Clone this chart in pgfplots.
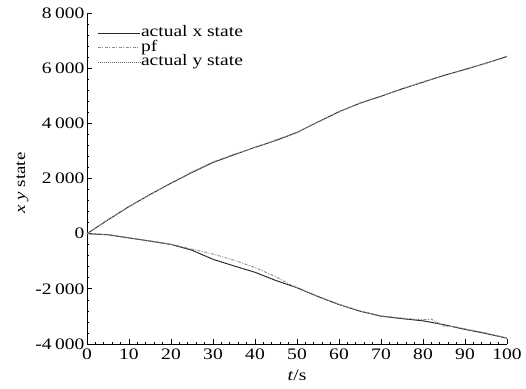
\documentclass[border=0pt]{standalone}
\usepackage{fontspec}
\setmainfont{Liberation Serif}[FakeStretch=1.22]
\usepackage{pgfplots}
\pgfplotsset{compat=1.18}
\begin{document}
\begin{tikzpicture}
\begin{axis}[
  at={(0,0)}, anchor=south west,
  scale only axis, width=420bp, height=331bp,
  xmin=0, xmax=100, ymin=-4000, ymax=8000,
  axis x line*=bottom, axis y line*=left,
  axis line style={-, line width=0.8bp},
  xtick={0,10,...,100}, ytick={-4000,-2000,...,8000},
  minor x tick num=4, minor y tick num=4,
  tick align=inside, major tick length=5bp, minor tick length=2bp,
  tick style={line width=0.7bp, black},
  /pgf/number format/assume math mode=true,
  /pgf/number format/1000 sep={\hspace{0.22em}},
  tick label style={font=\fontsize{16bp}{18bp}\selectfont},
  yticklabel style={xshift=1bp},
  xticklabel style={yshift=-1.5bp},
  xlabel={\textit{t}/s}, ylabel={\textit{x y} state},
  xlabel style={font=\fontsize{16bp}{18bp}\selectfont, yshift=-3bp},
  ylabel style={font=\fontsize{15.5bp}{17bp}\selectfont, xshift=-4.5bp},
  legend style={draw=none, fill=none, at={(axis description cs:0.024,0.961)}, anchor=north west,
    font=\fontsize{16bp}{18bp}\selectfont, inner sep=0pt, row sep=0pt,
    nodes={inner sep=0.75bp, text height=10bp, text depth=3bp}, cells={anchor=west}},
  legend image code/.code={\draw[#1] (0bp,0bp) -- (42bp,0bp);},
]
\addplot[black!85, line width=0.9bp] coordinates {
(0,0) (5,500) (10,980) (15,1420) (20,1830) (25,2220) (30,2580) (35,2860) (40,3130) (45,3380) (50,3670) (55,4050) (60,4420) (65,4730) (70,4980) (75,5250) (80,5490) (85,5740) (90,5950) (95,6180) (100,6420)};
\addlegendentry{actual x state}
\addplot[black!45, line width=0.9bp, dash pattern=on 3bp off 1.5bp on 1bp off 1.5bp] coordinates {
(0,0) (5,510) (10,990) (15,1410) (20,1840) (25,2240) (30,2600) (35,2880) (40,3120) (45,3400) (50,3680) (55,4040) (60,4410) (65,4740) (70,4990) (75,5240) (80,5510) (85,5720) (90,5970) (95,6170) (100,6440)};
\addlegendentry{pf}
\addplot[black!60, line width=1bp, densely dotted] coordinates {
(0,0) (5,-40) (10,-155) (15,-270) (20,-390) (25,-600) (30,-930) (35,-1170) (40,-1400) (45,-1700) (50,-1960) (55,-2280) (60,-2570) (65,-2810) (70,-2990) (75,-3080) (80,-3160) (85,-3300) (90,-3470) (95,-3620) (100,-3790)};
\addlegendentry{actual y state}
\addplot[black!85, line width=0.8bp, forget plot] coordinates {
(0,0) (5,-40) (10,-155) (15,-270) (20,-390) (25,-600) (30,-930) (35,-1170) (40,-1400) (45,-1700) (50,-1960) (55,-2280) (60,-2570) (65,-2810) (70,-2990) (75,-3080) (80,-3160) (85,-3300) (90,-3470) (95,-3620) (100,-3790)};
\addplot[black!45, line width=0.9bp, dash pattern=on 3bp off 1.5bp on 1bp off 1.5bp, forget plot] coordinates {
(0,0) (5,-30) (10,-150) (15,-260) (20,-380) (25,-560) (30,-740) (35,-960) (40,-1230) (45,-1560) (48,-1820) (50,-1950) (55,-2270) (60,-2560) (65,-2800) (70,-2980) (75,-3060) (80,-3120) (82,-3100) (85,-3350) (88,-3380) (90,-3450) (95,-3600) (100,-3780)};
\end{axis}
\path (-87bp,-45bp) rectangle (439bp,344bp);
\end{tikzpicture}
\end{document}
